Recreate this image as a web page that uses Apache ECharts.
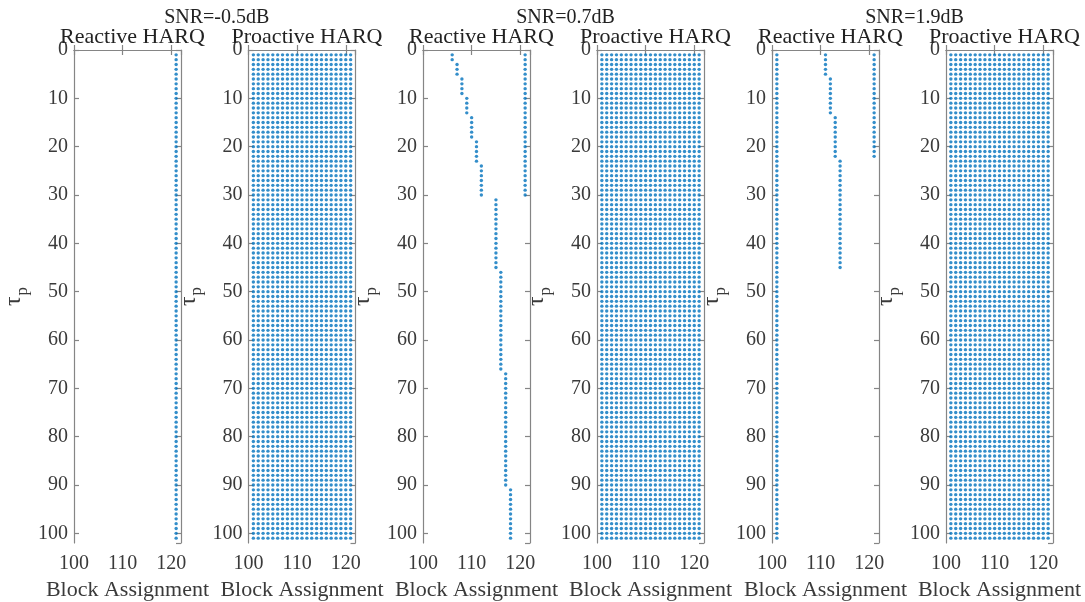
<!DOCTYPE html>
<html>
<head>
<meta charset="utf-8">
<script src="https://cdn.jsdelivr.net/npm/echarts@6/dist/echarts.min.js"></script>
<style>
  html, body { margin: 0; padding: 0; background: #fff; }
  #chart { width: 1085px; height: 602px; }
</style>
</head>
<body>
<div id="chart"></div>
<script>
// SNR labels, one per pair of panels
const snrLabels = ['SNR=-0.5dB', 'SNR=0.7dB', 'SNR=1.9dB'];
const panelTitles = ['Reactive HARQ', 'Proactive HARQ'];

// tau_p rows that are plotted (every integer in this range)
const tauFirst = 1;
const tauLast = 101;

// reactive HARQ assignments: [block, tau from, tau to]
const reactiveLow = [[121, 1, 101]];
const reactiveMid = [
  [106, 1, 2], [107, 3, 5], [108, 6, 9], [109, 10, 13], [110, 14, 18],
  [111, 19, 23], [112, 24, 30], [115, 31, 45], [116, 46, 66], [117, 67, 90],
  [118, 91, 101], [121, 1, 30]
];
const reactiveHigh = [
  [101, 1, 101], [111, 1, 5], [112, 6, 13], [113, 14, 22], [114, 23, 45], [121, 1, 22]
];

// proactive HARQ uses every block for every tau_p
const proactiveBlocks = [101, 102, 103, 104, 105, 106, 107, 108, 109, 110, 111,
  112, 113, 114, 115, 116, 117, 118, 119, 120, 121];
const proactiveLow = proactiveBlocks.map(b => [b, tauFirst, tauLast]);
const proactiveMid = proactiveBlocks.map(b => [b, tauFirst, tauLast]);
const proactiveHigh = proactiveBlocks.map(b => [b, tauFirst, tauLast]);

const panels = [reactiveLow, proactiveLow, reactiveMid, proactiveMid, reactiveHigh, proactiveHigh];

function expand(runs) {
  const pts = [];
  runs.forEach(r => {
    for (let t = r[1]; t <= r[2]; t++) pts.push([r[0], t]);
  });
  return pts;
}

const font = '"Liberation Serif", "DejaVu Serif", serif';
const axisColor = '#858585';
const textColor = '#3a3a3a';
const lefts = [74, 248.5, 423, 597, 772, 946];
const plotW = 107, plotTop = 50, plotH = 493;

const myChart = echarts.init(document.getElementById('chart'));

let grid = [], xAxis = [], yAxis = [], series = [], title = [];

lefts.forEach((left, i) => {
  grid.push({ left: left, top: plotTop, width: plotW, height: plotH, outerBoundsMode: 'none', containLabel: false });
  const lineStyle = { color: axisColor, width: 1.2 };
  const base = {
    gridIndex: i, type: 'value', min: 100, max: 122, interval: 10,
    axisLine: { show: true, lineStyle: lineStyle },
    axisTick: { show: true, inside: true, length: 5, lineStyle: lineStyle },
    splitLine: { show: false }
  };
  xAxis.push(Object.assign({}, base, {
    position: 'bottom',
    axisLabel: { color: textColor, fontSize: 20, fontFamily: font, margin: 11, showMaxLabel: false },
    name: 'Block Assignment', nameLocation: 'middle', nameGap: 34,
    nameTextStyle: { color: textColor, fontSize: 22, fontFamily: font }
  }));
  xAxis.push(Object.assign({}, base, { position: 'top', axisLabel: { show: false } }));

  const ybase = {
    gridIndex: i, type: 'value', inverse: true, min: 0, max: 102, interval: 10,
    axisLine: { show: true, lineStyle: lineStyle },
    axisTick: { show: true, inside: true, length: 5, lineStyle: lineStyle },
    splitLine: { show: false }
  };
  yAxis.push(Object.assign({}, ybase, {
    position: 'left',
    axisLabel: { color: textColor, fontSize: 20, fontFamily: font, margin: 6, showMaxLabel: false },
    name: '{t|τ}{s|p}', nameLocation: 'middle', nameRotate: 90, nameGap: 48,
    nameTextStyle: {
      rich: {
        t: { fontSize: 24, fontFamily: font, color: textColor, lineHeight: 24, verticalAlign: 'top' },
        s: { fontSize: 17, fontFamily: font, color: textColor, lineHeight: 17, verticalAlign: 'top', padding: [12, 0, 0, 1] }
      }
    }
  }));
  yAxis.push(Object.assign({}, ybase, { position: 'right', axisLabel: { show: false } }));

  series.push({
    type: 'scatter',
    xAxisIndex: i * 2, yAxisIndex: i * 2,
    data: expand(panels[i]),
    symbol: 'circle', symbolSize: 3.4,
    itemStyle: { color: '#0072BD' },
    silent: true, animation: false
  });

  title.push({
    text: panelTitles[i % 2],
    left: left + plotW / 2, top: 21, textAlign: 'center',
    textStyle: { color: '#222', fontSize: 22, fontWeight: 'normal', fontFamily: font }
  });
});

snrLabels.forEach((s, k) => {
  const c = (lefts[2 * k] + lefts[2 * k + 1] + plotW) / 2 - 3;
  title.push({
    text: s, left: c, top: 3, textAlign: 'center',
    textStyle: { color: '#222', fontSize: 20, fontWeight: 'normal', fontFamily: font }
  });
});

const option = {
  animation: false,
  title: title,
  grid: grid,
  xAxis: xAxis,
  yAxis: yAxis,
  series: series
};
myChart.setOption(option, true);
</script>
</body>
</html>
